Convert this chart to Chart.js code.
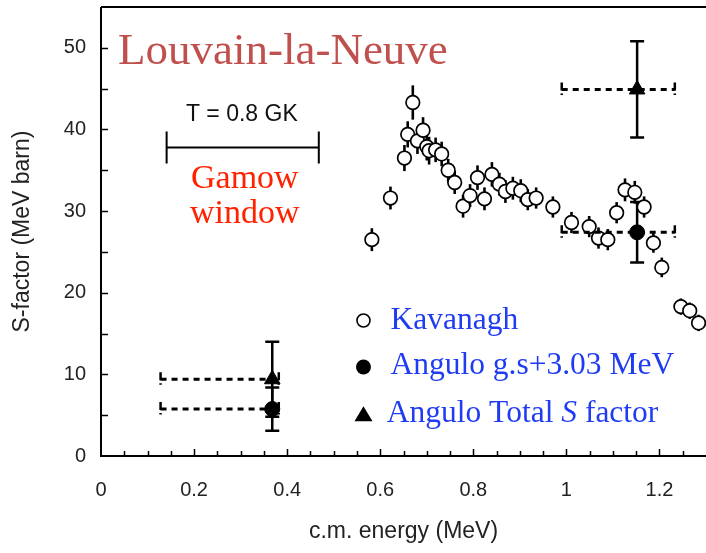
<!DOCTYPE html>
<html><head><meta charset="utf-8">
<script src="https://cdn.jsdelivr.net/npm/chart.js@4/dist/chart.umd.min.js"></script>
<style>html,body{margin:0;padding:0;background:#fff}</style>
</head><body>
<canvas id="c" width="706" height="553"></canvas>
<script>
// ---- data ----
const kavE = [0.582,0.622,0.652,0.659,0.670,0.680,0.692,0.700,0.705,0.719,0.732,0.746,0.760,0.778,0.793,0.809,0.824,0.840,0.856,0.869,0.885,0.902,0.917,0.935,0.971,1.011,1.049,1.069,1.089,1.108,1.126,1.147,1.167,1.187,1.205,1.246,1.265,1.284];
const kavS = [26.5,31.6,36.5,39.4,43.3,38.6,39.9,37.9,37.4,37.5,37.0,35.0,33.5,30.6,31.9,34.1,31.5,34.5,33.3,32.4,32.8,32.5,31.4,31.6,30.5,28.6,28.1,26.7,26.5,29.8,32.6,32.3,30.5,26.1,23.1,18.3,17.8,16.3];
const kavErr = [1.4,1.4,1.6,1.6,2.1,1.6,1.6,1.7,1.7,1.5,1.5,1.4,1.4,1.4,1.4,1.5,1.4,1.5,1.4,1.4,1.4,1.4,1.3,1.3,1.3,1.3,1.3,1.3,1.3,1.3,1.4,1.4,1.3,1.2,1.2,1.0,1.0,1.0];
const angGsE = [0.368,1.152];
const angGsS = [5.75,27.4];
const angGsErr = [2.65,3.7];
const angTotE = [0.368,1.152];
const angTotS = [9.4,44.9];
const angTotErr = [4.6,5.9];
const bandFromE = [0.128,0.990];
const bandToE = [0.382,1.233];
const gamowE = [0.141,0.468];
const gamowS = 37.8;
const xTickLabels = [0,0.2,0.4,0.6,0.8,1,1.2];
const yTickLabels = [0,10,20,30,40,50];

const pts = (xs, ys) => xs.map((x,i)=>({x:x, y:ys[i]}));
const SERIF = '"Liberation Serif","Times New Roman",serif';
const SANS = '"Liberation Sans",Arial,Helvetica,sans-serif';

const decor = {
  id:'decor',
  beforeDatasetsDraw(chart){
    const c = chart.ctx, xs = chart.scales.x, ys = chart.scales.y, a = chart.chartArea;
    c.save();
    c.strokeStyle = '#000';
    // frame
    c.lineWidth = 2;
    c.beginPath();
    c.moveTo(a.left, a.top); c.lineTo(a.right+2, a.top);
    c.moveTo(a.left, a.top); c.lineTo(a.left, a.bottom);
    c.lineTo(a.right+2, a.bottom);
    c.stroke();
    // inward ticks
    c.lineWidth = 1.5;
    c.beginPath();
    for (let k=1;k<=25;k++){
      const v = k*0.05, px = Math.round(xs.getPixelForValue(v))+0.5;
      const len = (k%4===0)?7:5;
      c.moveTo(px, a.bottom); c.lineTo(px, a.bottom-len);
    }
    for (let k=1;k<=10;k++){
      const py = Math.round(ys.getPixelForValue(k*5))+0.5;
      c.moveTo(a.left, py); c.lineTo(a.left+7, py);
    }
    c.stroke();
    // Gamow window caps
    c.lineWidth = 2;
    c.beginPath();
    const gy = ys.getPixelForValue(gamowS);
    gamowE.forEach(e=>{const px = xs.getPixelForValue(e); c.moveTo(px, gy-16); c.lineTo(px, gy+16);});
    c.stroke();
    // dashed band end caps
    c.lineWidth = 2.5;
    c.setLineDash([8,3,1.5,20]);
    const bandY = [angGsS[0], angTotS[0], angGsS[1], angTotS[1]];
    const bandI = [0,0,1,1];
    bandY.forEach((s,j)=>{
      const py = ys.getPixelForValue(s);
      [bandFromE[bandI[j]], bandToE[bandI[j]]].forEach(e=>{
        const px = xs.getPixelForValue(e);
        c.beginPath(); c.moveTo(px, py-7); c.lineTo(px, py+6); c.stroke();
      });
    });
    c.setLineDash([]);
    // error bars
    const bars = (E,S,Er,w,cap) => {
      c.lineWidth = w;
      E.forEach((e,i)=>{
        const px = xs.getPixelForValue(e);
        const y1 = ys.getPixelForValue(S[i]-Er[i]), y2 = ys.getPixelForValue(S[i]+Er[i]);
        c.beginPath(); c.moveTo(px,y1); c.lineTo(px,y2);
        if (cap){ c.moveTo(px-7,y1); c.lineTo(px+7,y1); c.moveTo(px-7,y2); c.lineTo(px+7,y2); }
        c.stroke();
      });
    };
    bars(kavE,kavS,kavErr,2.6,false);
    bars(angGsE,angGsS,angGsErr,2.5,true);
    bars(angTotE,angTotS,angTotErr,2.5,true);
    c.restore();
  },
  afterDatasetsDraw(chart){
    const c = chart.ctx, xs = chart.scales.x, ys = chart.scales.y;
    const X = v=>xs.getPixelForValue(v), Y = v=>ys.getPixelForValue(v);
    c.save();
    c.textBaseline = 'alphabetic';
    // title
    c.fillStyle = '#c0504d'; c.font = '45px '+SERIF; c.textAlign='left';
    c.fillText('Louvain-la-Neuve', X(0.0365), Y(48.0));
    // Gamow
    c.fillStyle = '#111'; c.font = '23px '+SANS; c.textAlign='center';
    c.fillText('T = 0.8 GK', X(0.3026), Y(41.0));
    c.fillStyle = '#ff2200'; c.font = '34px '+SERIF;
    c.fillText('Gamow', X(0.309), Y(32.8));
    c.fillText('window', X(0.309), Y(28.5));
    // legend
    const mx = X(0.564);
    c.strokeStyle='#000'; c.lineWidth=1.6; c.fillStyle='#fff';
    c.beginPath(); c.arc(mx, Y(16.6), 6.5, 0, 2*Math.PI); c.fill(); c.stroke();
    c.fillStyle='#000';
    c.beginPath(); c.arc(mx, Y(10.9), 7.5, 0, 2*Math.PI); c.fill();
    const ty = Y(5.0);
    c.beginPath(); c.moveTo(mx, ty-9); c.lineTo(mx+9, ty+6); c.lineTo(mx-9, ty+6); c.closePath(); c.fill();
    c.fillStyle = '#1f3cf2'; c.textAlign='left'; c.font = '31.5px '+SERIF;
    c.fillText('Kavanagh', X(0.622), Y(15.5));
    c.fillText('Angulo g.s+3.03 MeV', X(0.622), Y(10.1));
    let tx = X(0.614); const tb = Y(4.2);
    const p1 = 'Angulo Total ';
    c.fillText(p1, tx, tb); tx += c.measureText(p1).width;
    c.font = 'italic 31.5px '+SERIF; c.fillText('S', tx, tb); tx += c.measureText('S').width;
    c.font = '31.5px '+SERIF; c.fillText(' factor', tx, tb);
    c.restore();
  }
};

const lineDs = (x1,x2,y,dash,w) => ({data:[{x:x1,y:y},{x:x2,y:y}], showLine:true, borderColor:'#000', borderWidth:w, borderDash:dash, pointRadius:0, fill:false});

new Chart(document.getElementById('c'), {
  type:'scatter',
  data:{datasets:[
    lineDs(gamowE[0], gamowE[1], gamowS, [], 2),
    lineDs(bandFromE[0], bandToE[0], angGsS[0], [6,5], 3),
    lineDs(bandFromE[0], bandToE[0], angTotS[0], [6,5], 3),
    lineDs(bandFromE[1], bandToE[1], angGsS[1], [6,5], 3),
    lineDs(bandFromE[1], bandToE[1], angTotS[1], [6,5], 3),
    {label:'Kavanagh', data:pts(kavE,kavS), pointStyle:'circle', pointRadius:6.8, pointBackgroundColor:'#fff', pointBorderColor:'#000', pointBorderWidth:1.7},
    {label:'Angulo g.s+3.03 MeV', data:pts(angGsE,angGsS), pointStyle:'circle', pointRadius:7.5, pointBackgroundColor:'#000', pointBorderColor:'#000', pointBorderWidth:1},
    {label:'Angulo Total S factor', data:pts(angTotE,angTotS), pointStyle:'triangle', pointRadius:9, pointBackgroundColor:'#000', pointBorderColor:'#000', pointBorderWidth:1}
  ]},
  options:{
    responsive:false, animation:false, devicePixelRatio:1,
    layout:{autoPadding:false, padding:{top:7,right:0,left:0,bottom:0}},
    plugins:{legend:{display:false}, tooltip:{enabled:false}},
    scales:{
      x:{type:'linear', min:0, max:1.3,
        afterBuildTicks:s=>{s.ticks = xTickLabels.map(v=>({value:v}));},
        ticks:{autoSkip:false, maxRotation:0, color:'#222', font:{family:SANS, size:20}, padding:22, callback:v=>String(v)},
        grid:{display:false, drawTicks:false}, border:{display:false},
        title:{display:true, text:'c.m. energy (MeV)', color:'#222', font:{family:SANS, size:23}, padding:{top:0,bottom:8}},
        afterFit:s=>{s.height = 97; s.paddingLeft = 0; s.paddingRight = 0;}
      },
      y:{type:'linear', min:0, max:55,
        afterBuildTicks:s=>{s.ticks = yTickLabels.map(v=>({value:v}));},
        ticks:{autoSkip:false, color:'#222', font:{family:SANS, size:20}, padding:15},
        grid:{display:false, drawTicks:false}, border:{display:false},
        title:{display:true, text:'S-factor (MeV barn)', color:'#222', font:{family:SANS, size:23}, padding:{top:9,bottom:0}},
        afterFit:s=>{s.width = 101; s.paddingTop = 0; s.paddingBottom = 0;}
      }
    }
  },
  plugins:[decor]
});
</script>
</body></html>
